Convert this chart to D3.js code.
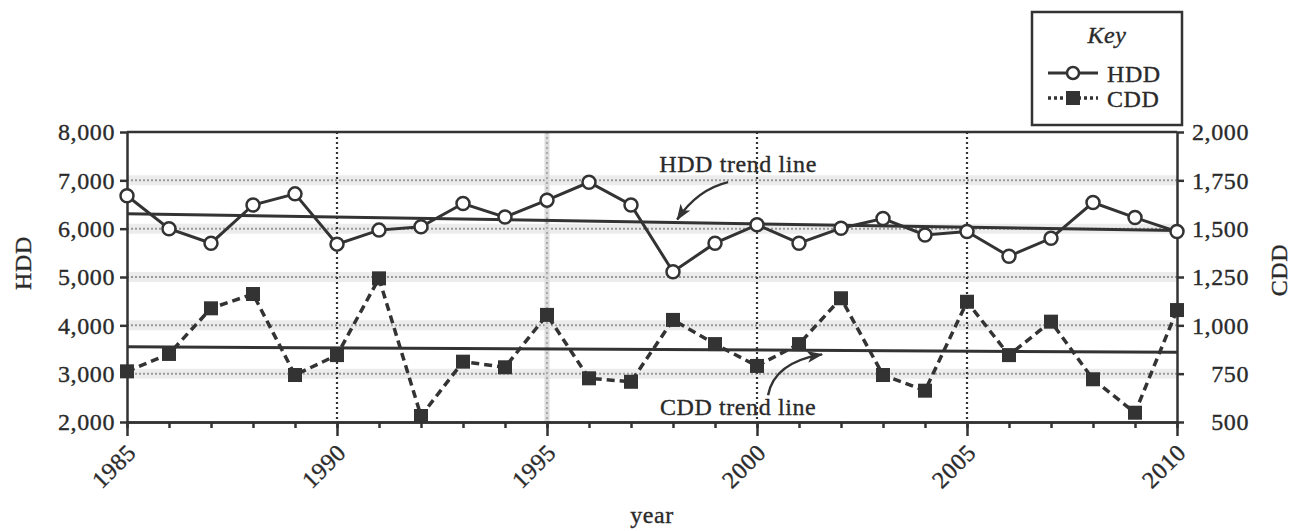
<!DOCTYPE html>
<html>
<head>
<meta charset="utf-8">
<script src="https://cdn.jsdelivr.net/npm/d3@7"></script>
<style>
  body { margin: 0; background: #fff; }
  svg { display: block; font-family: "Liberation Serif", "Times New Roman", serif; }
  .axis path, .axis line { stroke: #333; stroke-width: 2.5; }
  .axis text { font-size: 24px; fill: #2a2a2a; stroke: #2a2a2a; stroke-width: 0.35px;
    font-family: "Liberation Serif", serif; letter-spacing: 0.6px; }
  .label { font-size: 24px; fill: #2a2a2a; stroke: #2a2a2a; stroke-width: 0.35px; letter-spacing: 0.6px; }
</style>
</head>
<body>
<svg id="chart"></svg>
<script>
// values
const years = [1985, 1986, 1987, 1988, 1989, 1990, 1991, 1992, 1993, 1994, 1995, 1996, 1997,
  1998, 1999, 2000, 2001, 2002, 2003, 2004, 2005, 2006, 2007, 2008, 2009, 2010];
const hddValues = [6680, 6000, 5700, 6490, 6720, 5680, 5970, 6040, 6520, 6240, 6590, 6960, 6490,
  5110, 5700, 6080, 5700, 6010, 6210, 5870, 5940, 5430, 5800, 6540, 6230, 5940];
const cddValues = [762, 852, 1088, 1162, 743, 846, 1243, 531, 812, 783, 1054, 726, 708,
  1028, 903, 790, 903, 1140, 743, 662, 1122, 846, 1019, 721, 548, 1079];
const trendYears = [1985, 2010];
const hddTrend = [6310, 5960];
const cddTrend = [889, 861];
const majorYears = [1985, 1990, 1995, 2000, 2005, 2010];
const hddTicks = [2000, 3000, 4000, 5000, 6000, 7000, 8000];
const cddTicks = [500, 750, 1000, 1250, 1500, 1750, 2000];
const gridYears = [1990, 2000, 2005];
const lightGridYears = [1995];
const hddGrid = [3000, 4000, 5000, 6000, 7000];

const config = {
  containerWidth: 1293,
  containerHeight: 531,
  margin: {top: 132, right: 116, bottom: 109, left: 127},
  ink: '#333'
};

const width = config.containerWidth - config.margin.left - config.margin.right;
const height = config.containerHeight - config.margin.top - config.margin.bottom;

const svg = d3.select('#chart')
  .attr('width', config.containerWidth)
  .attr('height', config.containerHeight);

const chart = svg.append('g')
  .attr('transform', `translate(${config.margin.left},${config.margin.top})`);

// scales
const xScale = d3.scaleLinear().domain([1985, 2010]).range([0, width]);
const yLeft = d3.scaleLinear().domain([2000, 8000]).range([height, 0]);
const yRight = d3.scaleLinear().domain([500, 2000]).range([height, 0]);

// horizontal grid: faint screened band with a dotted line on top
chart.append('g').selectAll('line')
  .data(hddGrid)
  .join('line')
  .attr('x1', 0).attr('x2', width)
  .attr('y1', d => yLeft(d)).attr('y2', d => yLeft(d))
  .attr('stroke', '#ececec').attr('stroke-width', 10);
chart.append('g').selectAll('line')
  .data(hddGrid)
  .join('line')
  .attr('x1', 0).attr('x2', width)
  .attr('y1', d => yLeft(d)).attr('y2', d => yLeft(d))
  .attr('stroke', '#999').attr('stroke-width', 2)
  .attr('stroke-dasharray', '2,2');

// vertical grid
chart.append('g').selectAll('line')
  .data(lightGridYears)
  .join('line')
  .attr('x1', d => xScale(d)).attr('x2', d => xScale(d))
  .attr('y1', 0).attr('y2', height)
  .attr('stroke', '#dcdcdc').attr('stroke-width', 5);
chart.append('g').selectAll('line')
  .data(lightGridYears)
  .join('line')
  .attr('x1', d => xScale(d)).attr('x2', d => xScale(d))
  .attr('y1', 0).attr('y2', height)
  .attr('stroke', '#aaa').attr('stroke-width', 2)
  .attr('stroke-dasharray', '2,3');
chart.append('g').selectAll('line')
  .data(gridYears)
  .join('line')
  .attr('x1', d => xScale(d)).attr('x2', d => xScale(d))
  .attr('y1', 0).attr('y2', height)
  .attr('stroke', config.ink).attr('stroke-width', 2.2)
  .attr('stroke-dasharray', '2,3');

// frame top
chart.append('line')
  .attr('x1', 0).attr('x2', width)
  .attr('y1', 0).attr('y2', 0)
  .attr('stroke', config.ink).attr('stroke-width', 2.5);

// trend lines
const trendLine = scale => d3.line()
  .x((d, i) => xScale(trendYears[i]))
  .y(d => scale(d));

chart.append('path')
  .attr('d', trendLine(yLeft)(hddTrend))
  .attr('fill', 'none').attr('stroke', config.ink).attr('stroke-width', 3);
chart.append('path')
  .attr('d', trendLine(yRight)(cddTrend))
  .attr('fill', 'none').attr('stroke', config.ink).attr('stroke-width', 3);

// axes
const xMinor = d3.axisBottom(xScale).tickValues(years).tickSize(6).tickSizeOuter(0).tickFormat('');
const xMajor = d3.axisBottom(xScale).tickValues(majorYears).tickSize(14).tickSizeOuter(0).tickFormat(d => d);
const yAxisLeft = d3.axisLeft(yLeft).tickValues(hddTicks).tickSize(7).tickPadding(5).tickSizeOuter(0)
  .tickFormat(d3.format(','));
const yAxisRight = d3.axisRight(yRight).tickValues(cddTicks).tickSize(7).tickSizeOuter(0)
  .tickFormat(d3.format(','));

chart.append('g')
  .attr('class', 'axis x-axis')
  .attr('transform', `translate(0,${height})`)
  .call(xMinor);

const xMajorG = chart.append('g')
  .attr('class', 'axis x-axis')
  .attr('transform', `translate(0,${height})`)
  .call(xMajor);
xMajorG.selectAll('text')
  .attr('x', 0).attr('y', 0).attr('dy', 0)
  .attr('text-anchor', 'end')
  .attr('transform', 'translate(10,32) rotate(-45)');

chart.append('g')
  .attr('class', 'axis y-axis')
  .call(yAxisLeft);

const yRightG = chart.append('g')
  .attr('class', 'axis y-axis')
  .attr('transform', `translate(${width},0)`)
  .call(yAxisRight);
yRightG.selectAll('text')
  .attr('text-anchor', 'end')
  .attr('x', 72);

// axis titles
chart.append('text')
  .attr('class', 'label')
  .attr('text-anchor', 'middle')
  .attr('transform', `translate(${-config.margin.left + 31},${height / 2 - 14}) rotate(-90)`)
  .text('HDD');
chart.append('text')
  .attr('class', 'label')
  .attr('text-anchor', 'middle')
  .attr('transform', `translate(${width + 110},${height / 2 - 7}) rotate(-90)`)
  .text('CDD');
chart.append('text')
  .attr('class', 'label')
  .attr('text-anchor', 'middle')
  .attr('x', width / 2)
  .attr('y', height + 101)
  .text('year');

// CDD series (dashed, filled squares)
const cddLine = d3.line()
  .x((d, i) => xScale(years[i]))
  .y(d => yRight(d));
chart.append('path')
  .attr('d', cddLine(cddValues))
  .attr('fill', 'none').attr('stroke', config.ink)
  .attr('stroke-width', 3.5).attr('stroke-dasharray', '8,5');
chart.append('g').selectAll('rect')
  .data(cddValues)
  .join('rect')
  .attr('x', (d, i) => xScale(years[i]) - 7)
  .attr('y', d => yRight(d) - 7)
  .attr('width', 14).attr('height', 14)
  .attr('fill', config.ink);

// HDD series (solid, open circles)
const hddLine = d3.line()
  .x((d, i) => xScale(years[i]))
  .y(d => yLeft(d));
chart.append('path')
  .attr('d', hddLine(hddValues))
  .attr('fill', 'none').attr('stroke', config.ink).attr('stroke-width', 3);
chart.append('g').selectAll('circle')
  .data(hddValues)
  .join('circle')
  .attr('cx', (d, i) => xScale(years[i]))
  .attr('cy', d => yLeft(d))
  .attr('r', 6.5)
  .attr('fill', '#fff').attr('stroke', config.ink).attr('stroke-width', 2.5);

// annotations with curved arrows
svg.append('defs').append('marker')
  .attr('id', 'arrow')
  .attr('viewBox', '0 0 16 12')
  .attr('refX', 15).attr('refY', 6)
  .attr('markerWidth', 16).attr('markerHeight', 12)
  .attr('markerUnits', 'userSpaceOnUse')
  .attr('orient', 'auto')
  .append('path')
  .attr('d', 'M0,0 L16,6 L0,12 L4,6 z')
  .attr('fill', config.ink);

const hddNoteX = xScale(1999.55);
const hddTipX = xScale(1998.1);
const hddTipY = yLeft(hddTrend[0] + (hddTrend[1] - hddTrend[0]) * (1998.1 - 1985) / 25) - 3;
chart.append('text')
  .attr('class', 'label')
  .attr('text-anchor', 'middle')
  .attr('x', hddNoteX).attr('y', yLeft(7170))
  .text('HDD trend line');
chart.append('path')
  .attr('d', `M${hddNoteX - 10},${yLeft(7170) + 10} Q${hddTipX + 20},${hddTipY - 30} ${hddTipX},${hddTipY}`)
  .attr('fill', 'none').attr('stroke', config.ink).attr('stroke-width', 2.5)
  .attr('marker-end', 'url(#arrow)');

const cddNoteX = xScale(1999.55);
const cddTipX = xScale(2001.55);
const cddTipY = yRight(cddTrend[0] + (cddTrend[1] - cddTrend[0]) * (2001.55 - 1985) / 25) + 4;
chart.append('text')
  .attr('class', 'label')
  .attr('text-anchor', 'middle')
  .attr('x', cddNoteX).attr('y', yRight(535))
  .text('CDD trend line');
chart.append('path')
  .attr('d', `M${cddNoteX + 30},${yRight(535) - 20} Q${cddNoteX + 36},${cddTipY + 8} ${cddTipX},${cddTipY}`)
  .attr('fill', 'none').attr('stroke', config.ink).attr('stroke-width', 2.5)
  .attr('marker-end', 'url(#arrow)');

// legend
const legend = svg.append('g').attr('transform', 'translate(1032,12)');
legend.append('rect')
  .attr('width', 150).attr('height', 113)
  .attr('fill', '#fff').attr('stroke', config.ink).attr('stroke-width', 2.5);
legend.append('text')
  .attr('class', 'label')
  .attr('x', 75).attr('y', 31)
  .attr('text-anchor', 'middle')
  .attr('font-style', 'italic')
  .text('Key');
legend.append('line')
  .attr('x1', 16).attr('x2', 66).attr('y1', 61).attr('y2', 61)
  .attr('stroke', config.ink).attr('stroke-width', 3);
legend.append('circle')
  .attr('cx', 41).attr('cy', 61).attr('r', 6)
  .attr('fill', '#fff').attr('stroke', config.ink).attr('stroke-width', 2.5);
legend.append('text')
  .attr('class', 'label')
  .attr('x', 75).attr('y', 70)
  .text('HDD');
legend.append('line')
  .attr('x1', 16).attr('x2', 66).attr('y1', 86).attr('y2', 86)
  .attr('stroke', config.ink).attr('stroke-width', 3.5).attr('stroke-dasharray', '3,3');
legend.append('rect')
  .attr('x', 34).attr('y', 79).attr('width', 14).attr('height', 14)
  .attr('fill', config.ink);
legend.append('text')
  .attr('class', 'label')
  .attr('x', 75).attr('y', 95)
  .text('CDD');
</script>
</body>
</html>
